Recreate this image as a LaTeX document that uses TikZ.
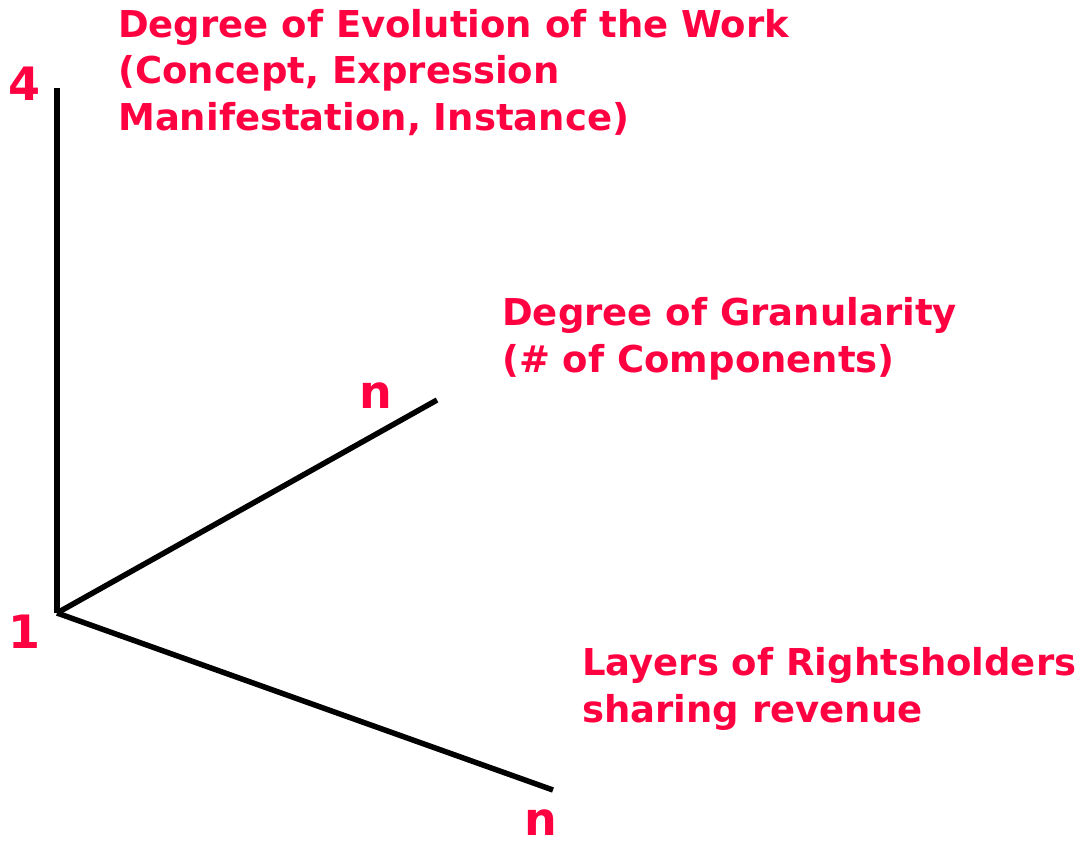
\documentclass[tikz,border=0pt]{standalone}
\usepackage{fontspec}
\setmainfont{DejaVu Sans}
\usepackage{tikz}
\usetikzlibrary{positioning}
\usepackage{xcolor}
\definecolor{axisred}{RGB}{255,0,64}

\tikzset{
  axislabel/.style={axisred, inner sep=0pt, font=\bfseries\fontsize{46}{50}\selectfont},
  axistitle/.style={axisred, inner sep=0pt, anchor=base west, align=left,
    font=\bfseries\fontsize{37}{46.5}\selectfont},
  axisline/.style={line width=5.5pt, black}
}

\begin{document}
\begin{tikzpicture}[x=1pt, y=-1pt]
  \useasboundingbox (0,0) rectangle (1087,844);
  % axes
  \coordinate (origin) at (57,613);
  \coordinate (evol) at (57,88);
  \coordinate (gran) at (437,400);
  \coordinate (layer) at (553,790);
  \draw[axisline] (evol) -- (origin);
  \draw[axisline] (origin) -- (gran);
  \draw[axisline] (origin) -- (layer);
  % end labels
  \node[axislabel] (four) at (25,84) {4};
  \node[axislabel] (one) at (25,632) {1};
  \node[axislabel] (ngran) at (376,396) {n};
  \node[axislabel] (nlayer) at (541,823) {n};
  % titles (anchored on the last line)
  \node[axistitle] (evoltitle) at (118,130) {Degree of Evolution of the Work\\(Concept, Expression\\Manifestation, Instance)};
  \node[axistitle] (grantitle) at (502,372) {Degree of Granularity\\(\# of Components)};
  \node[axistitle] (layertitle) at (582,722) {Layers of Rightsholders\\sharing revenue};
\end{tikzpicture}
\end{document}
